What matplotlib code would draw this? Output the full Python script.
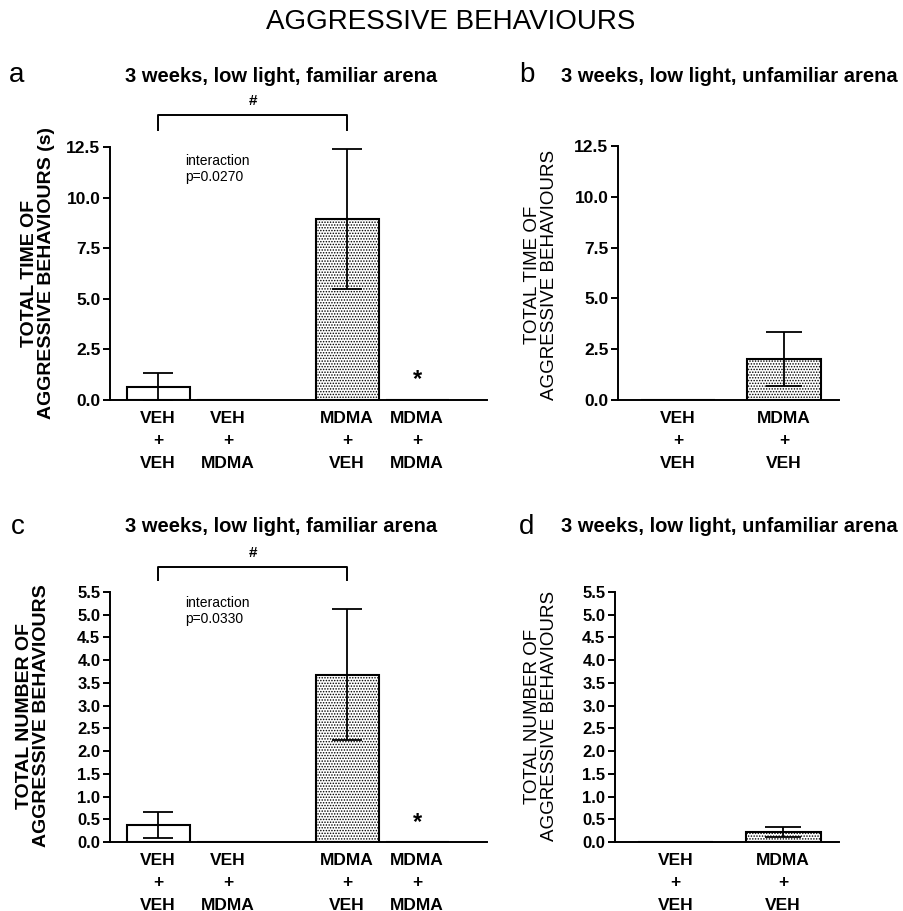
import matplotlib
matplotlib.use("Agg")
import matplotlib.pyplot as plt
import numpy as np

plt.rcParams['font.family'] = ['Liberation Sans', 'DejaVu Sans']
plt.rcParams['hatch.linewidth'] = 0.7

# ---------------- data ----------------
groups4 = ["VEH\n+\nVEH", "VEH\n+\nMDMA", "MDMA\n+\nVEH", "MDMA\n+\nMDMA"]
groups2 = ["VEH\n+\nVEH", "MDMA\n+\nVEH"]

time_fam_mean = [0.66, 0.0, 8.95, 0.0]
time_fam_sem = [0.68, 0.0, 3.47, 0.0]
time_unf_mean = [0.0, 2.0]
time_unf_sem = [0.0, 1.33]
num_fam_mean = [0.37, 0.0, 3.68, 0.0]
num_fam_sem = [0.28, 0.0, 1.44, 0.0]
num_unf_mean = [0.0, 0.22]
num_unf_sem = [0.0, 0.11]

time_ticks = [0.0, 2.5, 5.0, 7.5, 10.0, 12.5]
num_ticks = [0.0, 0.5, 1.0, 1.5, 2.0, 2.5, 3.0, 3.5, 4.0, 4.5, 5.0, 5.5]

W, H = 904, 911
fig = plt.figure(figsize=(W / 100, H / 100), dpi=100)


def fx(px):
    return px / W


def fy(py):
    return 1 - py / H


def make_ax(l, r, t, b):
    return fig.add_axes([fx(l), fy(b), fx(r) - fx(l), fy(t) - fy(b)])


def style(ax, ticks, ymax, fs):
    ax.set_ylim(0, ymax)
    ax.set_yticks(ticks)
    ax.set_yticklabels([f"{t:.1f}" for t in ticks], fontweight='bold', fontsize=fs)
    for s in ['top', 'right']:
        ax.spines[s].set_visible(False)
    for s in ['left', 'bottom']:
        ax.spines[s].set_linewidth(1.4)
    ax.tick_params(axis='y', length=5, width=1.4, pad=2)
    ax.tick_params(axis='x', length=0, pad=8)


def draw_bars(ax, pos, means, sems, labels, hatches, width, capsize):
    for p, m, h in zip(pos, means, hatches):
        ax.bar(p, m, width=width, color='white', edgecolor='black',
               linewidth=1.5, hatch=h, zorder=2)
    for p, m, e in zip(pos, means, sems):
        if e > 0:
            ax.errorbar(p, m, yerr=e, fmt='none', ecolor='black', elinewidth=1.3,
                        capsize=capsize, capthick=1.3, zorder=3)
    ax.set_xticks(pos)
    ax.set_xticklabels(labels, fontweight='bold', fontsize=12.5, linespacing=1.6)


hatch4 = ['', '', '......', '......']
hatch2 = ['', '......']
pos4 = [1.0, 2.0, 3.7, 4.7]
pos2 = [1.0, 2.0]

# ---- panel a ----
axa = make_ax(110, 487, 147, 400)
draw_bars(axa, pos4, time_fam_mean, time_fam_sem, groups4, hatch4, 0.9, 11)
axa.set_xlim(0.314, 5.7)
style(axa, time_ticks, 12.5, 12.5)
axa.plot([1.0, 1.0, 3.7, 3.7], [13.34, 14.08, 14.08, 13.34], color='black',
         lw=1.4, clip_on=False)
axa.text(2.35, 14.75, "#", ha='center', va='center', fontsize=11, fontweight='bold')
axa.text(1.39, 12.15, "interaction\np=0.0270", ha='left', va='top', fontsize=10)
axa.text(4.7, 1.0, "*", ha='center', va='center', fontsize=17, fontweight='bold')

# ---- panel b ----
axb = make_ax(618, 839, 146, 400)
draw_bars(axb, pos2, time_unf_mean, time_unf_sem, groups2, hatch2, 0.7, 13)
axb.set_xlim(0.434, 2.52)
style(axb, time_ticks, 12.5, 12.5)

# ---- panel c ----
axc = make_ax(110, 487, 592, 842)
draw_bars(axc, pos4, num_fam_mean, num_fam_sem, groups4, hatch4, 0.9, 11)
axc.set_xlim(0.314, 5.7)
style(axc, num_ticks, 5.5, 12)
axc.plot([1.0, 1.0, 3.7, 3.7], [5.76, 6.05, 6.05, 5.76], color='black',
         lw=1.4, clip_on=False)
axc.text(2.35, 6.36, "#", ha='center', va='center', fontsize=11, fontweight='bold')
axc.text(1.39, 5.42, "interaction\np=0.0330", ha='left', va='top', fontsize=10)
axc.text(4.7, 0.42, "*", ha='center', va='center', fontsize=17, fontweight='bold')

# ---- panel d ----
axd = make_ax(615, 839, 592, 842)
draw_bars(axd, pos2, num_unf_mean, num_unf_sem, groups2, hatch2, 0.7, 13)
axd.set_xlim(0.434, 2.52)
style(axd, num_ticks, 5.5, 12)

# ---- y labels ----
fig.text(fx(38), fy(273), "TOTAL TIME OF\nAGGRESSIVE BEHAVIOURS (s)", rotation=90,
         ha='center', va='center', fontsize=14, fontweight='bold', linespacing=1.05)
fig.text(fx(541), fy(275), "TOTAL TIME OF\nAGGRESSIVE BEHAVIOURS", rotation=90,
         ha='center', va='center', fontsize=13.5, linespacing=1.05)
fig.text(fx(33), fy(716), "TOTAL NUMBER OF\nAGGRESSIVE BEHAVIOURS", rotation=90,
         ha='center', va='center', fontsize=14, fontweight='bold', linespacing=1.05)
fig.text(fx(541), fy(716), "TOTAL NUMBER OF\nAGGRESSIVE BEHAVIOURS", rotation=90,
         ha='center', va='center', fontsize=13.5, linespacing=1.05)

# ---- panel letters & subtitles ----
fig.text(fx(17), fy(75), "a", ha='center', va='center', fontsize=20)
fig.text(fx(527), fy(75), "b", ha='center', va='center', fontsize=20)
fig.text(fx(18), fy(527), "c", ha='center', va='center', fontsize=20)
fig.text(fx(527), fy(527), "d", ha='center', va='center', fontsize=20)

fig.text(fx(281), fy(77), "3 weeks, low light, familiar arena", ha='center', va='center',
         fontsize=14.5, fontweight='bold')
fig.text(fx(729), fy(77), "3 weeks, low light, unfamiliar arena", ha='center', va='center',
         fontsize=14.5, fontweight='bold')
fig.text(fx(281), fy(527), "3 weeks, low light, familiar arena", ha='center', va='center',
         fontsize=14.5, fontweight='bold')
fig.text(fx(729), fy(527), "3 weeks, low light, unfamiliar arena", ha='center', va='center',
         fontsize=14.5, fontweight='bold')

fig.text(fx(451), fy(22), "AGGRESSIVE BEHAVIOURS", ha='center', va='center', fontsize=20)

fig.savefig("out.png", dpi=100)
